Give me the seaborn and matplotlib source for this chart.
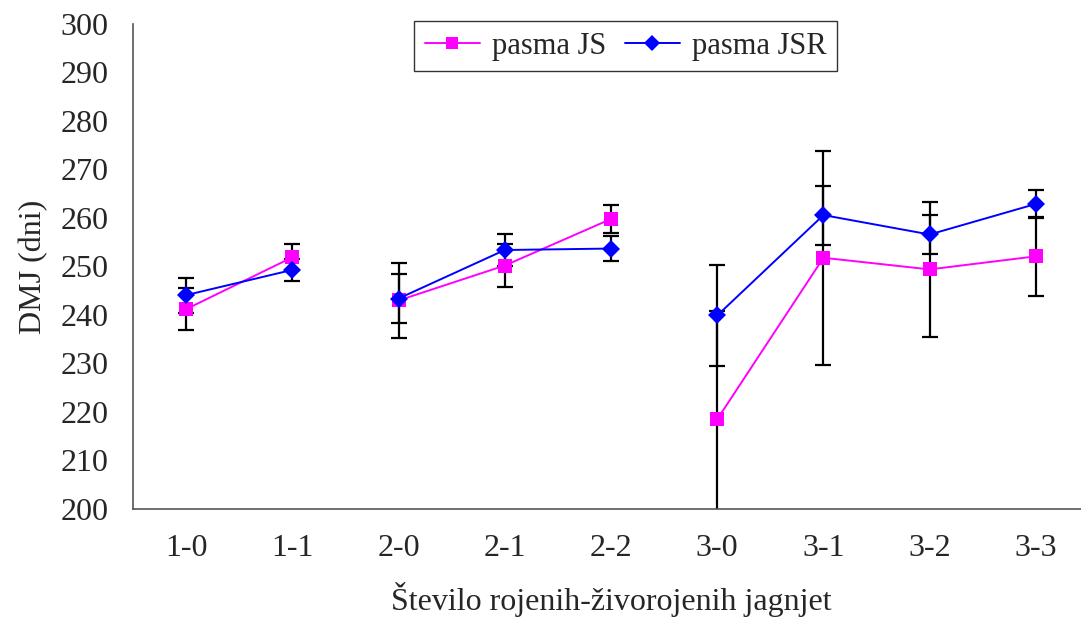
import numpy as np
import pandas as pd
import matplotlib
matplotlib.use("Agg")
import matplotlib.pyplot as plt
from matplotlib.lines import Line2D
import seaborn as sns

categories = ["1-0", "1-1", "2-0", "2-1", "2-2", "3-0", "3-1", "3-2", "3-3"]
groups = [1, 1, 2, 2, 2, 3, 3, 3, 3]
js_mean = [241.2, 251.9, 243.0, 250.2, 259.8, 218.5, 251.8, 249.4, 252.1]
js_err = [4.3, 2.7, 7.7, 4.45, 2.8, 22.3, 22.1, 14.0, 8.2]
jsr_mean = [244.1, 249.3, 243.4, 253.4, 253.7, 239.9, 260.6, 256.6, 262.9]
jsr_err = [3.6, 2.2, 5.05, 3.3, 2.6, 10.4, 6.1, 4.1, 2.9]
series_names = ["pasma JS", "pasma JSR"]
colors = {"pasma JS": "#FF00FF", "pasma JSR": "#0000FF"}
markers = {"pasma JS": "s", "pasma JSR": "D"}
msizes = {"pasma JS": 10, "pasma JSR": 9.5}

sns.set_theme(style="white")
plt.rcParams["font.family"] = ["Liberation Serif", "DejaVu Serif"]
FS = 23

rows = []
for name, means, errs in [("pasma JS", js_mean, js_err), ("pasma JSR", jsr_mean, jsr_err)]:
    for i, (c, g, m, e) in enumerate(zip(categories, groups, means, errs)):
        rows.append(dict(pos=i, cat=c, group=g, series=name, mean=m, err=e))
df = pd.DataFrame(rows)

fig = plt.figure(figsize=(10.81, 6.19), dpi=100)
ax = fig.add_axes([133 / 1081, 110 / 619, 956 / 1081, 485 / 619])

# error bars (behind markers)
for name in series_names:
    sub = df[df.series == name]
    ax.errorbar(sub["pos"], sub["mean"], yerr=sub["err"], fmt="none",
                ecolor="black", elinewidth=1.6, capsize=6, capthick=1.6, zorder=2)

for name in series_names:
    sub = df[df.series == name]
    sns.lineplot(data=sub, x="pos", y="mean", units="group", estimator=None,
                 color=colors[name], marker=markers[name], markersize=msizes[name],
                 markeredgewidth=0, linewidth=1.4, sort=False, legend=False,
                 ax=ax, zorder=3)

ax.set_xlim(-0.5, len(categories) - 0.5)
ax.set_ylim(200, 300)
ax.set_yticks(np.arange(200, 301, 10))
ax.set_xticks(np.arange(len(categories)))
ax.set_xticklabels(categories)
ax.set_xticks(np.arange(-0.5, len(categories), 1.0), minor=True)
ax.tick_params(axis="x", which="major", length=0, pad=18, labelsize=FS)
ax.tick_params(axis="x", which="minor", length=8, width=1.2, color="#555555", direction="out")
ax.tick_params(axis="y", length=6.5, width=1.2, color="#555555", direction="out", labelsize=FS, pad=11)
for s in ["top", "right"]:
    ax.spines[s].set_visible(False)
for s in ["left", "bottom"]:
    ax.spines[s].set_color("#555555")
    ax.spines[s].set_linewidth(1.2)

ax.set_ylabel("DMJ (dni)", fontsize=FS, labelpad=9)
ax.set_xlabel("Število rojenih-živorojenih jagnjet", fontsize=FS, labelpad=14)

handles = [Line2D([0], [0], color=colors[n], marker=markers[n], markersize=msizes[n] - 1,
                  markeredgewidth=0, linewidth=1.4) for n in series_names]
leg = ax.legend(handles, series_names, loc="upper left", bbox_to_anchor=(0.294, 1.006),
                ncol=2, fontsize=22, frameon=True, fancybox=False, edgecolor="black",
                handlelength=1.8, handletextpad=0.4, columnspacing=0.6, borderpad=0.35,
                borderaxespad=0)
leg.get_frame().set_linewidth(1.0)

fig.savefig("out.png", dpi=100)
